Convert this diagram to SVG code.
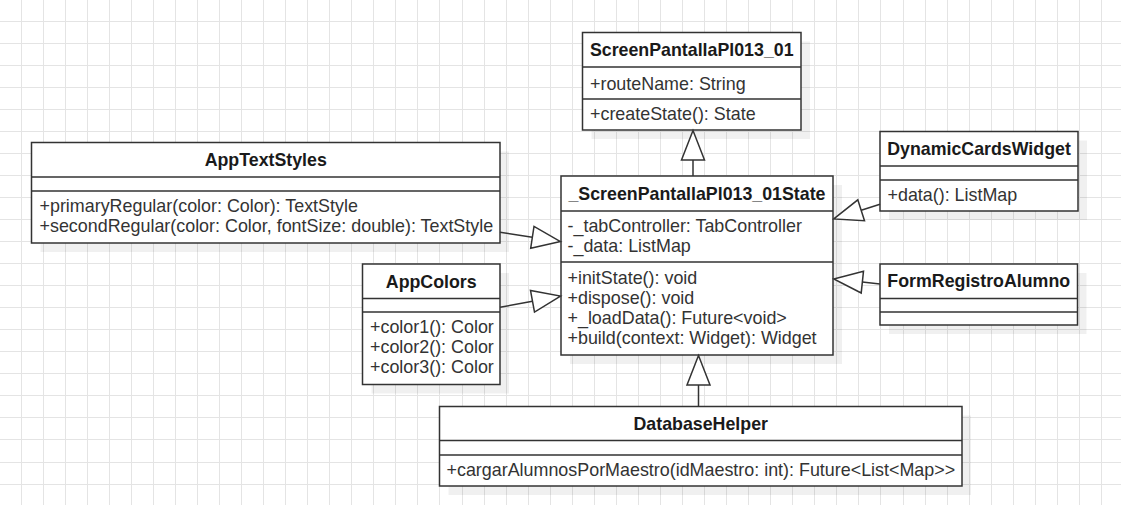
<svg xmlns="http://www.w3.org/2000/svg" width="1121" height="505" viewBox="0 0 1121 505">
<style>
.grid{stroke:#e4e4e4;stroke-width:1;fill:none}
.shadow{fill:#000;fill-opacity:.06}
.box{fill:#fff;stroke:#333;stroke-width:1.5}
.sep{stroke:#333;stroke-width:1.5;fill:none}
.t{font-family:"Liberation Sans",Arial,Helvetica,sans-serif;font-size:17.9px;fill:#333}
.h{font-family:"Liberation Sans",Arial,Helvetica,sans-serif;font-size:17.8px;font-weight:bold;fill:#1a1a1a;text-anchor:middle}
.edge{stroke:#333;stroke-width:1.5;fill:none}
.head{fill:#fff;stroke:#333;stroke-width:1.5;stroke-linejoin:miter}
</style>
<rect width="1121" height="505" fill="#fff"/>
<path class="grid" d="M21.5 0V505M43.5 0V505M65.5 0V505M87.5 0V505M109.5 0V505M131.5 0V505M153.5 0V505M175.5 0V505M197.5 0V505M219.5 0V505M241.5 0V505M263.5 0V505M285.5 0V505M307.5 0V505M329.5 0V505M351.5 0V505M373.5 0V505M395.5 0V505M417.5 0V505M439.5 0V505M462.5 0V505M484.5 0V505M506.5 0V505M528.5 0V505M550.5 0V505M572.5 0V505M594.5 0V505M616.5 0V505M638.5 0V505M660.5 0V505M682.5 0V505M704.5 0V505M726.5 0V505M748.5 0V505M770.5 0V505M792.5 0V505M814.5 0V505M836.5 0V505M858.5 0V505M880.5 0V505M903.5 0V505M925.5 0V505M947.5 0V505M969.5 0V505M991.5 0V505M1013.5 0V505M1035.5 0V505M1057.5 0V505M1079.5 0V505M1101.5 0V505M0 21.5H1121M0 43.5H1121M0 65.5H1121M0 87.5H1121M0 109.5H1121M0 131.5H1121M0 153.5H1121M0 175.5H1121M0 197.5H1121M0 219.5H1121M0 241.5H1121M0 263.5H1121M0 285.5H1121M0 307.5H1121M0 329.5H1121M0 351.5H1121M0 373.5H1121M0 395.5H1121M0 417.5H1121M0 439.5H1121M0 462.5H1121M0 484.5H1121"/>

<g id="ScreenPantallaPl013_01">
<rect class="shadow" x="591.5" y="41.5" width="218.5" height="97.5"/>
<rect class="box" x="582.5" y="32.5" width="218.5" height="97.5"/>
<path class="sep" d="M582.5 67H801M582.5 99H801"/>
<text class="h" x="691.75" y="56">ScreenPantallaPl013_01</text>
<text class="t" x="590" y="89.5">+routeName: String</text>
<text class="t" x="590" y="119.5">+createState(): State</text>
</g>

<g id="ScreenPantallaPl013_01State">
<rect class="shadow" x="570" y="185" width="272" height="179"/>
<rect class="box" x="561" y="176" width="272" height="179"/>
<path class="sep" d="M561 211H833M561 262H833"/>
<text class="h" x="697" y="199.5">_ScreenPantallaPl013_01State</text>
<text class="t" x="567.5" y="231.5">-_tabController: TabController</text>
<text class="t" x="567.5" y="251.5">-_data: ListMap</text>
<text class="t" x="567.5" y="283.5">+initState(): void</text>
<text class="t" x="567.5" y="303.5">+dispose(): void</text>
<text class="t" x="567.5" y="323.5">+_loadData(): Future&lt;void&gt;</text>
<text class="t" x="567.5" y="343.5">+build(context: Widget): Widget</text>
</g>

<g id="AppTextStyles">
<rect class="shadow" x="40.5" y="151.5" width="468.5" height="100.5"/>
<rect class="box" x="31.5" y="142.5" width="468.5" height="100.5"/>
<path class="sep" d="M31.5 177H500M31.5 191H500"/>
<text class="h" x="265.75" y="166">AppTextStyles</text>
<text class="t" x="39.5" y="212">+primaryRegular(color: Color): TextStyle</text>
<text class="t" x="39.5" y="232">+secondRegular(color: Color, fontSize: double): TextStyle</text>
</g>

<g id="AppColors">
<rect class="shadow" x="371.5" y="273" width="137.5" height="120.5"/>
<rect class="box" x="362.5" y="264" width="137.5" height="120.5"/>
<path class="sep" d="M362.5 298.5H500M362.5 312H500"/>
<text class="h" x="431.25" y="287.5">AppColors</text>
<text class="t" x="370" y="333">+color1(): Color</text>
<text class="t" x="370" y="353">+color2(): Color</text>
<text class="t" x="370" y="373">+color3(): Color</text>
</g>

<g id="DynamicCardsWidget">
<rect class="shadow" x="889" y="140.5" width="198" height="79.5"/>
<rect class="box" x="880" y="131.5" width="198" height="79.5"/>
<path class="sep" d="M880 166H1078M880 180H1078"/>
<text class="h" x="979" y="154.5">DynamicCardsWidget</text>
<text class="t" x="887.5" y="201">+data(): ListMap</text>
</g>

<g id="FormRegistroAlumno">
<rect class="shadow" x="889" y="273" width="197.5" height="61"/>
<rect class="box" x="880" y="264" width="197.5" height="61"/>
<path class="sep" d="M880 298.5H1077.5M880 312H1077.5"/>
<text class="h" x="978.75" y="287">FormRegistroAlumno</text>
</g>

<g id="DatabaseHelper">
<rect class="shadow" x="448.5" y="415.5" width="522.5" height="79.5"/>
<rect class="box" x="439.5" y="406.5" width="522.5" height="79.5"/>
<path class="sep" d="M439.5 440.5H962M439.5 455H962"/>
<text class="h" x="700.75" y="430">DatabaseHelper</text>
<text class="t" x="446.5" y="476">+cargarAlumnosPorMaestro(idMaestro: int): Future&lt;List&lt;Map&gt;&gt;</text>
</g>

<g id="connectors">
<path class="edge" d="M693 176V160"/>
<polygon class="head" points="693,130.5 681.5,160 704.5,160"/>
<path class="edge" d="M500 232.3L532.3 237.3"/>
<polygon class="head" points="560.5,241.6 530.7,248.2 534,226.4"/>
<path class="edge" d="M500 307.3L532.5 301.3"/>
<polygon class="head" points="560.5,296.1 534.5,312.1 530.5,290.5"/>
<path class="edge" d="M880 204.3L861.2 210.3"/>
<polygon class="head" points="833.8,218.9 857.8,199.8 864.5,220.8"/>
<path class="edge" d="M880 284L862.3 282.1"/>
<polygon class="head" points="833.8,279 863.5,271.2 861.2,293"/>
<path class="edge" d="M698.5 406.5V385"/>
<polygon class="head" points="698.5,355.5 687,385 710,385"/>
</g>
</svg>
